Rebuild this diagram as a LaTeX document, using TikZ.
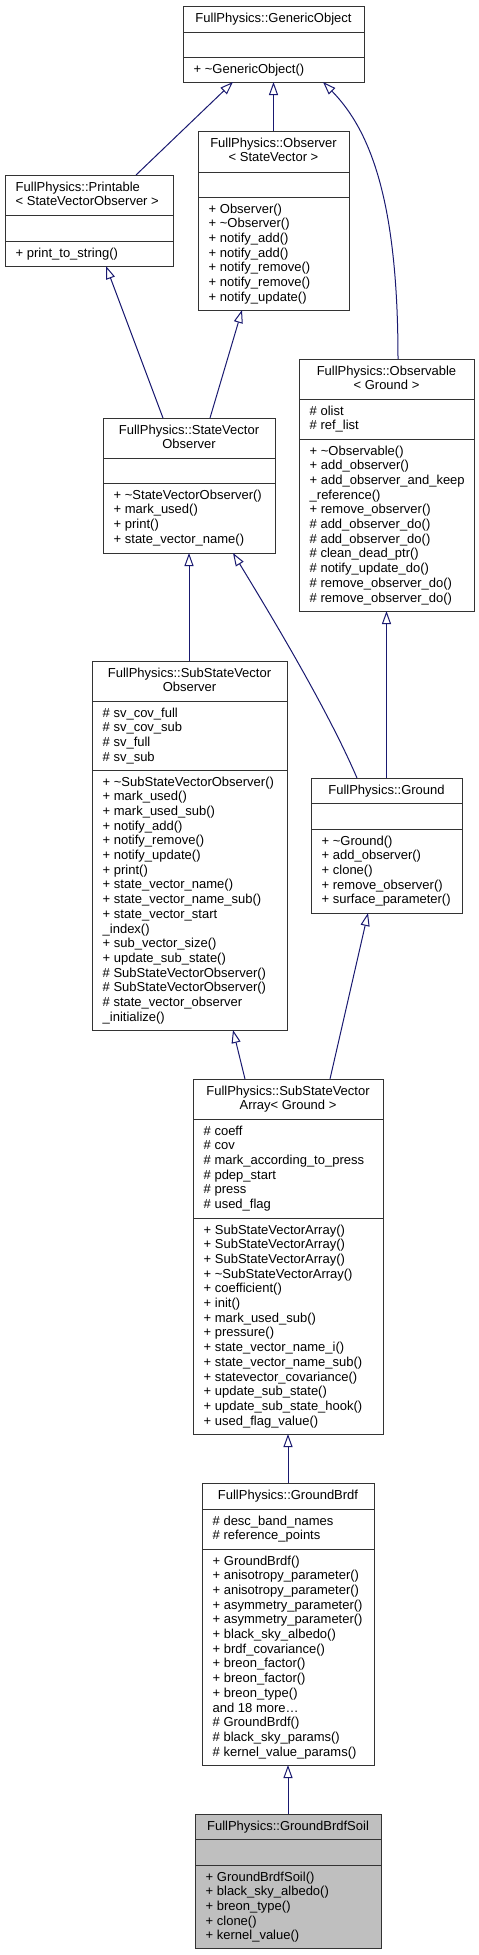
\documentclass[tikz,border=0pt]{standalone}
\usepackage{fontspec}
\setmainfont{Liberation Sans}
\usetikzlibrary{arrows.meta,fit}

\definecolor{edgeblue}{HTML}{191970}
\definecolor{soilgray}{HTML}{BFBFBF}

\newcommand{\classbox}[8][]{%
  \node[classframe,#1,fit={(#3,#4) (#5,#6)}] (#2) {};
  \draw[divider] (#2.west |- 0,#7) -- (#2.east |- 0,#7);
  \draw[divider] (#2.west |- 0,#8) -- (#2.east |- 0,#8);
}
\newcommand{\textlines}[4][base west]{%
  \foreach \txt [count=\i from 0] in {#4}
    \node[member,anchor=#1] at (#2,{#3+14.7*\i}) {\txt};
}

\begin{document}
\begin{tikzpicture}[x=1pt,y=-1pt,
  classframe/.style={draw=black!80,line width=1pt,inner sep=0pt,outer sep=0pt},
  divider/.style={draw=black!80,line width=1pt},
  member/.style={font=\fontsize{13}{14.7}\selectfont,inner sep=0pt},
  isa/.style={draw=edgeblue,line width=1pt,-{Triangle[length=13pt,width=9pt,fill=white]}}]
  \useasboundingbox (0,0) rectangle (479,1955);

  \classbox{gobj}{183}{6}{364}{82}{32}{57}
  \textlines[base]{273.5}{22}{FullPhysics::GenericObject}
  \textlines{193.5}{73}{+ \textasciitilde GenericObject()}

  \classbox{printable}{5}{175}{173}{266}{215}{241}
  \textlines{15.5}{191}{FullPhysics::Printable,< StateVectorObserver >}
  \textlines{15.5}{257}{+ print\_to\_string()}

  \classbox{observer}{198}{131}{349}{310}{172}{197}
  \textlines[base]{273.5}{147}{FullPhysics::Observer,< StateVector >}
  \textlines{208.5}{213}{+ Observer(),+ \textasciitilde Observer(),+ notify\_add(),+ notify\_add(),
    + notify\_remove(),+ notify\_remove(),+ notify\_update()}

  \classbox{svobs}{103}{418}{275}{553}{458}{483}
  \textlines[base]{189}{434}{FullPhysics::StateVector,Observer}
  \textlines{113.5}{499}{+ \textasciitilde StateVectorObserver(),+ mark\_used(),+ print(),
    + state\_vector\_name()}

  \classbox{observable}{299}{359}{474}{611}{399}{439}
  \textlines[base]{386.5}{375}{FullPhysics::Observable,< Ground >}
  \textlines{309.5}{415}{\# olist,\# ref\_list}
  \textlines{309.5}{455}{+ \textasciitilde Observable(),+ add\_observer(),+ add\_observer\_and\_keep,
    \_reference(),+ remove\_observer(),\# add\_observer\_do(),\# add\_observer\_do(),
    \# clean\_dead\_ptr(),\# notify\_update\_do(),\# remove\_observer\_do(),
    \# remove\_observer\_do()}

  \classbox{subsvobs}{92}{661}{287}{1030}{701}{770}
  \textlines[base]{189.5}{677}{FullPhysics::SubStateVector,Observer}
  \textlines{102.5}{717}{\# sv\_cov\_full,\# sv\_cov\_sub,\# sv\_full,\# sv\_sub}
  \textlines{102.5}{786}{+ \textasciitilde SubStateVectorObserver(),+ mark\_used(),+ mark\_used\_sub(),
    + notify\_add(),+ notify\_remove(),+ notify\_update(),+ print(),+ state\_vector\_name(),
    + state\_vector\_name\_sub(),+ state\_vector\_start,\_index(),+ sub\_vector\_size(),
    + update\_sub\_state(),\# SubStateVectorObserver(),\# SubStateVectorObserver(),
    \# state\_vector\_observer,\_initialize()}

  \classbox{ground}{311}{778}{462}{913}{803}{829}
  \textlines[base]{386.5}{794}{FullPhysics::Ground}
  \textlines{321.5}{845}{+ \textasciitilde Ground(),+ add\_observer(),+ clone(),+ remove\_observer(),
    + surface\_parameter()}

  \classbox{ssva}{193}{1079}{383}{1434}{1119}{1218}
  \textlines[base]{288}{1095}{FullPhysics::SubStateVector,Array< Ground >}
  \textlines{203.5}{1135}{\# coeff,\# cov,\# mark\_according\_to\_press,\# pdep\_start,\# press,
    \# used\_flag}
  \textlines{203.5}{1234}{+ SubStateVectorArray(),+ SubStateVectorArray(),+ SubStateVectorArray(),
    + \textasciitilde SubStateVectorArray(),+ coefficient(),+ init(),+ mark\_used\_sub(),
    + pressure(),+ state\_vector\_name\_i(),+ state\_vector\_name\_sub(),
    + statevector\_covariance(),+ update\_sub\_state(),+ update\_sub\_state\_hook(),
    + used\_flag\_value()}

  \classbox{gbrdf}{202}{1483}{374}{1765}{1509}{1549}
  \textlines[base]{288}{1499}{FullPhysics::GroundBrdf}
  \textlines{212.5}{1525}{\# desc\_band\_names,\# reference\_points}
  \textlines{212.5}{1565}{+ GroundBrdf(),+ anisotropy\_parameter(),+ anisotropy\_parameter(),
    + asymmetry\_parameter(),+ asymmetry\_parameter(),+ black\_sky\_albedo(),
    + brdf\_covariance(),+ breon\_factor(),+ breon\_factor(),+ breon\_type(),and 18 more\ldots,
    \# GroundBrdf(),\# black\_sky\_params(),\# kernel\_value\_params()}

  \classbox[fill=soilgray]{soil}{195}{1814}{381}{1948}{1839}{1865}
  \textlines[base]{288}{1830}{FullPhysics::GroundBrdfSoil}
  \textlines{205.5}{1881}{+ GroundBrdfSoil(),+ black\_sky\_albedo(),+ breon\_type(),+ clone(),
    + kernel\_value()}

  \draw[isa] (136,0 |- printable.north) -- (233,0 |- gobj.south);
  \draw[isa] (observer.north) -- (gobj.south);
  \draw[isa] (398,0 |- observable.north) .. controls (398,200) and (370,130) .. (323,0 |- gobj.south);
  \draw[isa] (163,0 |- svobs.north) -- (106,0 |- printable.south);
  \draw[isa] (210,0 |- svobs.north) -- (242,0 |- observer.south);
  \draw[isa] (189,0 |- subsvobs.north) -- (189,0 |- svobs.south);
  \draw[isa] (357,0 |- ground.north) .. controls (330,715) and (280,630) .. (233,0 |- svobs.south);
  \draw[isa] (ground.north) -- (observable.south);
  \draw[isa] (245,0 |- ssva.north) -- (233,0 |- subsvobs.south);
  \draw[isa] (330,0 |- ssva.north) -- (368,0 |- ground.south);
  \draw[isa] (gbrdf.north) -- (ssva.south);
  \draw[isa] (soil.north) -- (gbrdf.south);
\end{tikzpicture}
\end{document}
